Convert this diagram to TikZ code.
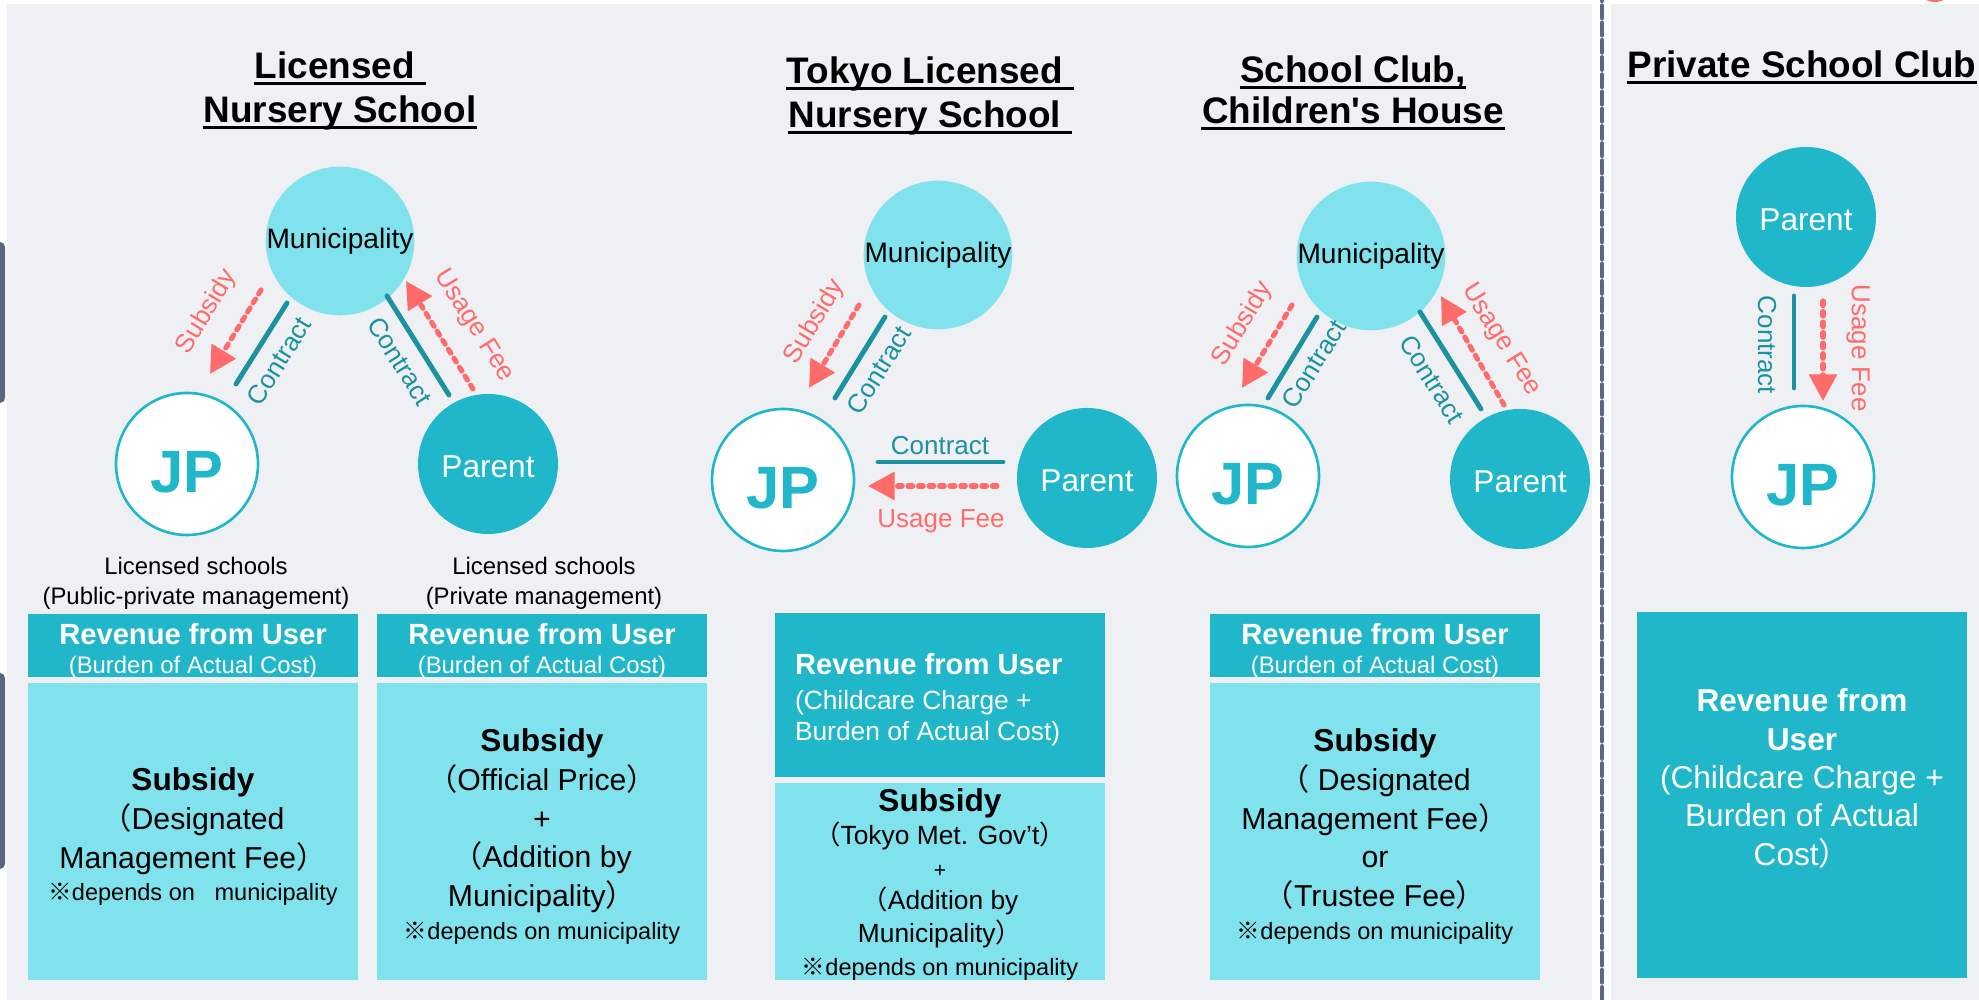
\documentclass[tikz,border=0pt]{standalone}
\usepackage{fontspec}
\setmainfont{Liberation Sans}
\newfontfamily\plainfont{Liberation Sans}
\newfontfamily\cjk{Noto Sans CJK JP}
\usepackage{tkz-euclide}
\usetikzlibrary{arrows.meta}

\definecolor{jppanel}{HTML}{EFF0F4}
\definecolor{jpteal}{HTML}{21B7CA}
\definecolor{jplight}{HTML}{80E2ED}
\definecolor{jpline}{HTML}{1A929F}
\definecolor{jpred}{HTML}{FF6B6B}
\definecolor{jpslate}{HTML}{5A6883}

\tikzset{
  muninode/.style={circle,fill=jplight,minimum size=1.4cm,inner sep=0pt,font=\fontsize{8}{9.6}\selectfont},
  parentnode/.style={circle,fill=jpteal,minimum size=1.4cm,inner sep=0pt,text height=0.28cm,text=white,font=\fontsize{9}{10.8}\selectfont},
  jpnode/.style={circle,draw=jpteal,line width=0.75pt,fill=white,minimum size=1.42cm,inner sep=0pt,text height=0.57cm,text=jpteal,font=\fontsize{17}{20}\selectfont\bfseries},
  contract/.style={color=jpline,line width=1.4pt},
  fee/.style={color=jpred,line width=1.45pt,dash pattern=on 1.3pt off 1.7pt,-{Triangle[length=7.6pt,width=7.8pt]}},
  divider/.style={color=jpslate,line width=1.1pt,dash pattern=on 3.7pt off 1.2pt},
  contracttext/.style={inner sep=0pt,text=jpline,font=\fontsize{7.4}{8.9}\selectfont},
  feetext/.style={inner sep=0pt,text=jpred,font=\fontsize{7.4}{8.9}\selectfont},
  heading/.style={inner sep=0pt,anchor=base,font=\fontsize{10.5}{12.6}\selectfont\bfseries},
  underbar/.style={line width=0.85pt},
  smalltext/.style={inner sep=0pt,anchor=north,align=center,font=\fontsize{6.8}{8.3}\selectfont},
  box/.style={rectangle,inner sep=0pt,minimum width=3.3cm},
  userbox/.style={box,fill=jpteal,minimum height=0.63cm},
  aidbox/.style={box,fill=jplight,minimum height=2.97cm},
  usertext/.style={inner sep=0pt,anchor=north,align=center,text=white,font=\fontsize{6.8}{8.5}\selectfont},
  aidtext/.style={inner sep=0pt,anchor=north,align=center,font=\fontsize{8.6}{11}\selectfont}
}

\begin{document}
\begin{tikzpicture}
\useasboundingbox (0,0) rectangle (19.79,10);
\fill[white] (0,0) rectangle (19.79,10);
\fill[jppanel] (0.07,0) rectangle (15.92,9.96);
\fill[jppanel] (16.11,0) rectangle (19.79,9.96);
\fill[jpslate,rounded corners=0.05cm] (-0.1,5.97) rectangle (0.05,7.58);
\fill[jpslate,rounded corners=0.05cm] (-0.1,1.31) rectangle (0.05,3.27);
\fill[jpred] (19.35,10.1) ellipse (0.16 and 0.12);

\tkzDefPoint(16.02,0){dA}
\tkzDefPoint(16.02,10){dB}
\tkzDrawSegment[divider](dA,dB)


\node[heading] (titleA1) at (3.40,9.21) {Licensed\kern.28em};
\node[heading] (titleA2) at (3.40,8.77) {Nursery School};
\draw[underbar] ([yshift=-0.05cm]titleA1.base west) -- ([yshift=-0.05cm]titleA1.base east);
\draw[underbar] ([yshift=-0.05cm]titleA2.base west) -- ([yshift=-0.05cm]titleA2.base east);

\tkzDefPoint(3.40,7.59){mA}
\tkzDefPoint(1.87,5.36){jA}
\tkzDefPoint(4.88,5.36){pA}
\node[muninode] (muniA) at (mA) {Municipality};
\node[jpnode] (jpA) at (jA) {JP};
\node[parentnode] (parentA) at (pA) {Parent};

  \tkzDefPoint(2.61,7.10){sA1}
  \tkzDefPoint(2.10,6.26){sA2}
\tkzDrawSegment[fee](sA1,sA2)
  \tkzDefPoint(2.87,6.97){kA1}
  \tkzDefPoint(2.36,6.16){kA2}
\tkzDrawSegment[contract](kA1,kA2)
  \tkzDefPoint(3.87,7.04){kA3}
  \tkzDefPoint(4.49,6.05){kA4}
\tkzDrawSegment[contract](kA3,kA4)
  \tkzDefPoint(4.73,6.11){uA1}
  \tkzDefPoint(4.06,7.19){uA2}
\tkzDrawSegment[fee](uA1,uA2)

\node[feetext,rotate=59] (subA) at (2.07,6.88) {Subsidy};
\node[contracttext,rotate=58] (conA1) at (2.79,6.39) {Contract};
\node[contracttext,rotate=-58] (conA2) at (4.00,6.39) {Contract};
\node[feetext,rotate=-58] (feeA) at (4.74,6.74) {Usage Fee};

\node[smalltext] (schoolA1) at (1.96,4.43) {Licensed schools\\(Public-private management)};
\node[smalltext] (schoolA2) at (5.44,4.43) {Licensed schools\\(Private management)};

\node[userbox] (userA1) at (1.93,3.545) {};
\node[userbox] (userA2) at (5.42,3.545) {};
\node[aidbox] (aidA1) at (1.93,1.685) {};
\node[aidbox] (aidA2) at (5.42,1.685) {};
\node[usertext] (revA1) at ([yshift=-0.09cm]userA1.north) {{\fontsize{8.3}{8.5}\selectfont\bfseries Revenue from User}\\(Burden of Actual Cost)};
\node[usertext] (revA2) at ([yshift=-0.09cm]userA2.north) {{\fontsize{8.3}{8.5}\selectfont\bfseries Revenue from User}\\(Burden of Actual Cost)};
\node[aidtext] (subsA1) at ([yshift=-0.85cm]aidA1.north) {{\fontsize{9}{11}\selectfont\bfseries Subsidy}\\{\cjk （}Designated\\Management Fee{\cjk ）}\\[-1.7pt]{\fontsize{6.7}{8}\selectfont{\cjk ※}depends on\ \ \ municipality}};
\node[aidtext] (subsA2) at ([yshift=-0.46cm]aidA2.north) {{\fontsize{9}{11}\selectfont\bfseries Subsidy}\\{\cjk （}Official Price{\cjk ）}\\+\\{\cjk （}Addition by\\Municipality{\cjk ）}\\[-1.7pt]{\fontsize{6.7}{8}\selectfont{\cjk ※}depends on municipality}};


\node[heading] (titleB1) at (9.30,9.16) {Tokyo Licensed\kern.28em};
\node[heading] (titleB2) at (9.30,8.72) {Nursery School\kern.28em};
\draw[underbar] ([yshift=-0.05cm]titleB1.base west) -- ([yshift=-0.05cm]titleB1.base east);
\draw[underbar] ([yshift=-0.05cm]titleB2.base west) -- ([yshift=-0.05cm]titleB2.base east);

\tkzDefPoint(9.38,7.45){mB}
\tkzDefPoint(7.83,5.20){jB}
\tkzDefPoint(10.87,5.22){pB}
\node[muninode] (muniB) at (mB) {Municipality};
\node[jpnode] (jpB) at (jB) {JP};
\node[parentnode] (parentB) at (pB) {Parent};

  \tkzDefPoint(8.59,6.95){sB1}
  \tkzDefPoint(8.09,6.12){sB2}
\tkzDrawSegment[fee](sB1,sB2)
  \tkzDefPoint(8.85,6.83){kB1}
  \tkzDefPoint(8.35,6.02){kB2}
\tkzDrawSegment[contract](kB1,kB2)
  \tkzDefPoint(10.03,5.38){kB3}
  \tkzDefPoint(8.78,5.38){kB4}
\tkzDrawSegment[contract](kB3,kB4)
  \tkzDefPoint(9.97,5.14){uB1}
  \tkzDefPoint(8.68,5.14){uB2}
\tkzDrawSegment[fee](uB1,uB2)

\node[feetext,rotate=59] (subB) at (8.15,6.78) {Subsidy};
\node[contracttext,rotate=58] (conB1) at (8.79,6.30) {Contract};
\node[contracttext] (conB2) at (9.40,5.54) {Contract};
\node[feetext] (feeB) at (9.41,4.79) {Usage Fee};

\node[box,fill=jpteal,minimum height=1.64cm] (userB) at (9.40,3.05) {};
\node[box,fill=jplight,minimum height=1.97cm] (aidB) at (9.40,1.185) {};
\node[usertext,anchor=north west,align=left,font=\fontsize{7.5}{9}\selectfont] (revB) at ([xshift=0.20cm,yshift=-0.40cm]userB.north west) {{\fontsize{8.3}{9}\selectfont\bfseries Revenue from User}\\[1pt](Childcare Charge +\\Burden of Actual Cost)};
\node[aidtext,font=\fontsize{7.5}{9.3}\selectfont] (subsB) at ([yshift=-0.06cm]aidB.north) {{\fontsize{9}{9.3}\selectfont\bfseries Subsidy}\\{\cjk （}Tokyo Met. Gov’t{\cjk ）}\\{\fontsize{6}{7}\selectfont +}\\{\cjk （}Addition by\\Municipality{\cjk ）}\\{\fontsize{6.7}{8}\selectfont{\cjk ※}depends on municipality}};


\node[heading] (titleC1) at (13.53,9.17) {School Club,};
\node[heading] (titleC2) at (13.53,8.76) {Children{\plainfont '}s House};
\draw[underbar] ([yshift=-0.05cm]titleC1.base west) -- ([yshift=-0.05cm]titleC1.base east);
\draw[underbar] ([yshift=-0.05cm]titleC2.base west) -- ([yshift=-0.05cm]titleC2.base east);

\tkzDefPoint(13.71,7.44){mC}
\tkzDefPoint(12.48,5.24){jC}
\tkzDefPoint(15.20,5.21){pC}
\node[muninode] (muniC) at (mC) {Municipality};
\node[jpnode] (jpC) at (jC) {JP};
\node[parentnode] (parentC) at (pC) {Parent};

  \tkzDefPoint(12.92,6.95){sC1}
  \tkzDefPoint(12.42,6.12){sC2}
\tkzDrawSegment[fee](sC1,sC2)
  \tkzDefPoint(13.17,6.83){kC1}
  \tkzDefPoint(12.68,6.02){kC2}
\tkzDrawSegment[contract](kC1,kC2)
  \tkzDefPoint(14.20,6.88){kC3}
  \tkzDefPoint(14.81,5.91){kC4}
\tkzDrawSegment[contract](kC3,kC4)
  \tkzDefPoint(15.04,5.95){uC1}
  \tkzDefPoint(14.41,7.04){uC2}
\tkzDrawSegment[fee](uC1,uC2)

\node[feetext,rotate=59] (subC) at (12.43,6.76) {Subsidy};
\node[contracttext,rotate=58] (conC1) at (13.14,6.36) {Contract};
\node[contracttext,rotate=-58] (conC2) at (14.32,6.21) {Contract};
\node[feetext,rotate=-58] (feeC) at (15.01,6.60) {Usage Fee};

\node[userbox] (userC) at (13.75,3.545) {};
\node[aidbox] (aidC) at (13.75,1.685) {};
\node[usertext] (revC) at ([yshift=-0.09cm]userC.north) {{\fontsize{8.3}{8.5}\selectfont\bfseries Revenue from User}\\(Burden of Actual Cost)};
\node[aidtext] (subsC) at ([yshift=-0.46cm]aidC.north) {{\fontsize{9}{11}\selectfont\bfseries Subsidy}\\{\cjk （} Designated\\Management Fee{\cjk ）}\\or\\{\cjk （}Trustee Fee{\cjk ）}\\[-1.7pt]{\fontsize{6.7}{8}\selectfont{\cjk ※}depends on municipality}};


\node[heading,anchor=base west] (titleD) at (16.27,9.22) {Private School Club};
\draw[underbar] ([yshift=-0.05cm]titleD.base west) -- ([yshift=-0.05cm]titleD.base east);

\tkzDefPoint(18.06,7.83){pD}
\tkzDefPoint(18.03,5.23){jD}
\node[parentnode] (parentD) at (pD) {Parent};
\node[jpnode] (jpD) at (jD) {JP};

  \tkzDefPoint(17.94,7.04){kD1}
  \tkzDefPoint(17.94,6.12){kD2}
\tkzDrawSegment[contract](kD1,kD2)
  \tkzDefPoint(18.23,6.99){uD1}
  \tkzDefPoint(18.23,5.99){uD2}
\tkzDrawSegment[fee](uD1,uD2)

\node[contracttext,rotate=-90] (conD) at (17.67,6.55) {Contract};
\node[feetext,rotate=-90] (feeD) at (18.58,6.52) {Usage Fee};

\node[box,fill=jpteal,minimum height=3.66cm] (userD) at (18.02,2.05) {};
\node[usertext,font=\fontsize{9}{10.9}\selectfont] (revD) at ([yshift=-0.77cm]userD.north) {{\bfseries Revenue from}\\{\bfseries User}\\(Childcare Charge +\\Burden of Actual\\Cost{\cjk ）}};

\end{tikzpicture}
\end{document}
